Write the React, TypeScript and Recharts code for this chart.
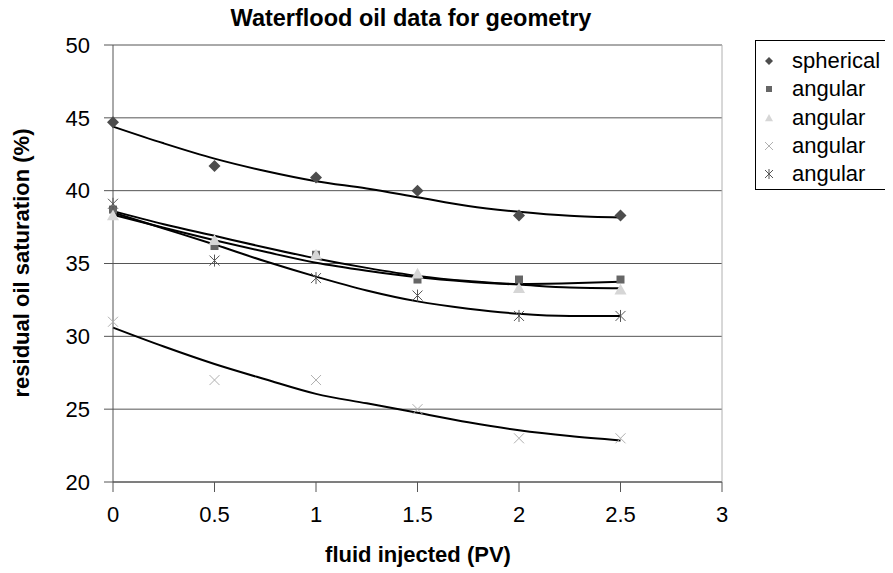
import React from 'react';
import {
  ComposedChart,
  Scatter,
  Line,
  XAxis,
  YAxis,
  CartesianGrid,
  ReferenceLine,
} from 'recharts';

// measured points (PV injected)
const injected = [0, 0.5, 1, 1.5, 2, 2.5];
const spherical = [44.7, 41.7, 40.9, 40.0, 38.3, 38.3];
const angularSquare = [38.7, 36.2, 35.6, 33.9, 33.9, 33.9];
const angularTriangle = [38.3, 36.6, 35.6, 34.3, 33.3, 33.2];
const angularCross = [31.0, 27.0, 27.0, 25.0, 23.0, 23.0];
const angularStar = [39.1, 35.2, 34.0, 32.8, 31.4, 31.4];

// trendlines
const fitX = [0, 0.25, 0.5, 0.75, 1, 1.25, 1.5, 1.75, 2, 2.25, 2.5];
const sphericalFit = [44.4, 43.25, 42.2, 41.35, 40.65, 40.15, 39.55, 38.95, 38.55, 38.27, 38.15];
const squareFit = [38.6, 37.7, 36.9, 36.1, 35.35, 34.7, 34.15, 33.8, 33.6, 33.65, 33.75];
const triangleFit = [38.35, 37.45, 36.6, 35.8, 35.05, 34.5, 34.05, 33.75, 33.55, 33.35, 33.3];
const crossFit = [30.6, 29.3, 28.1, 27.05, 26.05, 25.4, 24.75, 24.1, 23.55, 23.15, 22.85];
const starFit = [38.5, 37.4, 36.3, 35.15, 34.1, 33.15, 32.4, 31.9, 31.55, 31.4, 31.4];

const xTicks = [0, 0.5, 1, 1.5, 2, 2.5, 3];
const yTicks = [20, 25, 30, 35, 40, 45, 50];

const legendNames = ['spherical', 'angular', 'angular', 'angular', 'angular'];

const FONT = '"Liberation Sans", Arial, sans-serif';

const pts = (ys: number[]) => injected.map((x, i) => ({ x, y: ys[i] }));
const fit = (ys: number[]) => fitX.map((x, i) => ({ x, y: ys[i] }));

type MarkProps = { cx?: number; cy?: number; s?: number };

const Diamond = ({ cx = 0, cy = 0, s = 6 }: MarkProps) => (
  <polygon points={`${cx},${cy - s} ${cx + s},${cy} ${cx},${cy + s} ${cx - s},${cy}`} fill="#4d4d4d" />
);
const Square = ({ cx = 0, cy = 0, s = 4 }: MarkProps) => (
  <rect x={cx - s} y={cy - s} width={s * 2} height={s * 2} fill="#666666" />
);
const Triangle = ({ cx = 0, cy = 0, s = 6 }: MarkProps) => (
  <polygon points={`${cx},${cy - s} ${cx + s},${cy + s * 0.8} ${cx - s},${cy + s * 0.8}`} fill="#d6d6d6" />
);
const Cross = ({ cx = 0, cy = 0, s = 5 }: MarkProps) => (
  <g stroke="#b0b0b0" strokeWidth={1}>
    <line x1={cx - s} y1={cy - s} x2={cx + s} y2={cy + s} />
    <line x1={cx - s} y1={cy + s} x2={cx + s} y2={cy - s} />
  </g>
);
const Star = ({ cx = 0, cy = 0, s = 5 }: MarkProps) => (
  <g stroke="#555555" strokeWidth={1}>
    <line x1={cx - s} y1={cy - s} x2={cx + s} y2={cy + s} />
    <line x1={cx - s} y1={cy + s} x2={cx + s} y2={cy - s} />
    <line x1={cx} y1={cy - s - 1} x2={cx} y2={cy + s + 1} />
  </g>
);

const legendMarks = [
  <Diamond cx={8} cy={8} s={4} />,
  <Square cx={8} cy={8} s={3} />,
  <Triangle cx={8} cy={8} s={4} />,
  <Cross cx={8} cy={8} s={4} />,
  <Star cx={8} cy={8} s={4} />,
];

export default function App() {
  return (
    <div style={{ position: 'relative', width: 885, height: 565, fontFamily: FONT, background: '#fff' }}>
      <div
        style={{
          position: 'absolute', left: 103, top: -3, width: 600, height: 26,
          lineHeight: '26px', textAlign: 'center', fontSize: 23.5, fontWeight: 'bold',
        }}
      >
        Waterflood oil data for geometry
      </div>

      <ComposedChart width={760} height={565} margin={{ top: 37, right: 46, bottom: 31, left: 0 }}>
        <CartesianGrid vertical={false} stroke="#555555" />
        <XAxis
          type="number"
          dataKey="x"
          domain={[0, 3]}
          ticks={xTicks}
          height={60}
          stroke="#555555"
          tickSize={10}
          tickMargin={14}
          tick={{ fill: '#000', fontSize: 22, fontFamily: FONT }}
          allowDuplicatedCategory={false}
        />
        <YAxis
          type="number"
          domain={[20, 50]}
          ticks={yTicks}
          width={105}
          stroke="#555555"
          tickSize={9}
          tickMargin={14}
          tick={{ fill: '#000', fontSize: 22, fontFamily: FONT }}
        />
        <ReferenceLine x={3} stroke="#b0b0b0" />

        <Scatter data={pts(spherical)} dataKey="y" shape={(p: any) => <Diamond cx={p.cx} cy={p.cy} />} isAnimationActive={false} />
        <Scatter data={pts(angularSquare)} dataKey="y" shape={(p: any) => <Square cx={p.cx} cy={p.cy} />} isAnimationActive={false} />
        <Scatter data={pts(angularTriangle)} dataKey="y" shape={(p: any) => <Triangle cx={p.cx} cy={p.cy} />} isAnimationActive={false} />
        <Scatter data={pts(angularCross)} dataKey="y" shape={(p: any) => <Cross cx={p.cx} cy={p.cy} />} isAnimationActive={false} />
        <Scatter data={pts(angularStar)} dataKey="y" shape={(p: any) => <Star cx={p.cx} cy={p.cy} />} isAnimationActive={false} />

        {[sphericalFit, squareFit, triangleFit, crossFit, starFit].map((ys, i) => (
          <Line
            key={i}
            data={fit(ys)}
            dataKey="y"
            type="monotone"
            stroke="#000"
            strokeWidth={2}
            dot={false}
            activeDot={false}
            isAnimationActive={false}
          />
        ))}
      </ComposedChart>

      <div
        style={{
          position: 'absolute', left: -186, top: 242, width: 400, height: 26,
          lineHeight: '26px', textAlign: 'center', fontSize: 22, fontWeight: 'bold',
          transform: 'rotate(-90deg)',
        }}
      >
        residual oil saturation (%)
      </div>

      <div
        style={{
          position: 'absolute', left: 210, top: 534, width: 400, height: 26,
          lineHeight: '26px', textAlign: 'center', fontSize: 22, fontWeight: 'bold',
        }}
      >
        fluid injected (PV)
      </div>

      <div
        style={{
          position: 'absolute', left: 747, top: 32, width: 134, height: 150,
          border: '1px solid #000', boxSizing: 'border-box',
        }}
      >
        {legendNames.map((name, i) => (
          <div
            key={i}
            style={{ position: 'absolute', left: 5, top: 7 + i * 28.3, height: 26, display: 'flex', alignItems: 'center' }}
          >
            <svg width={16} height={16} style={{ marginRight: 15 }}>{legendMarks[i]}</svg>
            <span style={{ fontSize: 22, lineHeight: '26px' }}>{name}</span>
          </div>
        ))}
      </div>
    </div>
  );
}
